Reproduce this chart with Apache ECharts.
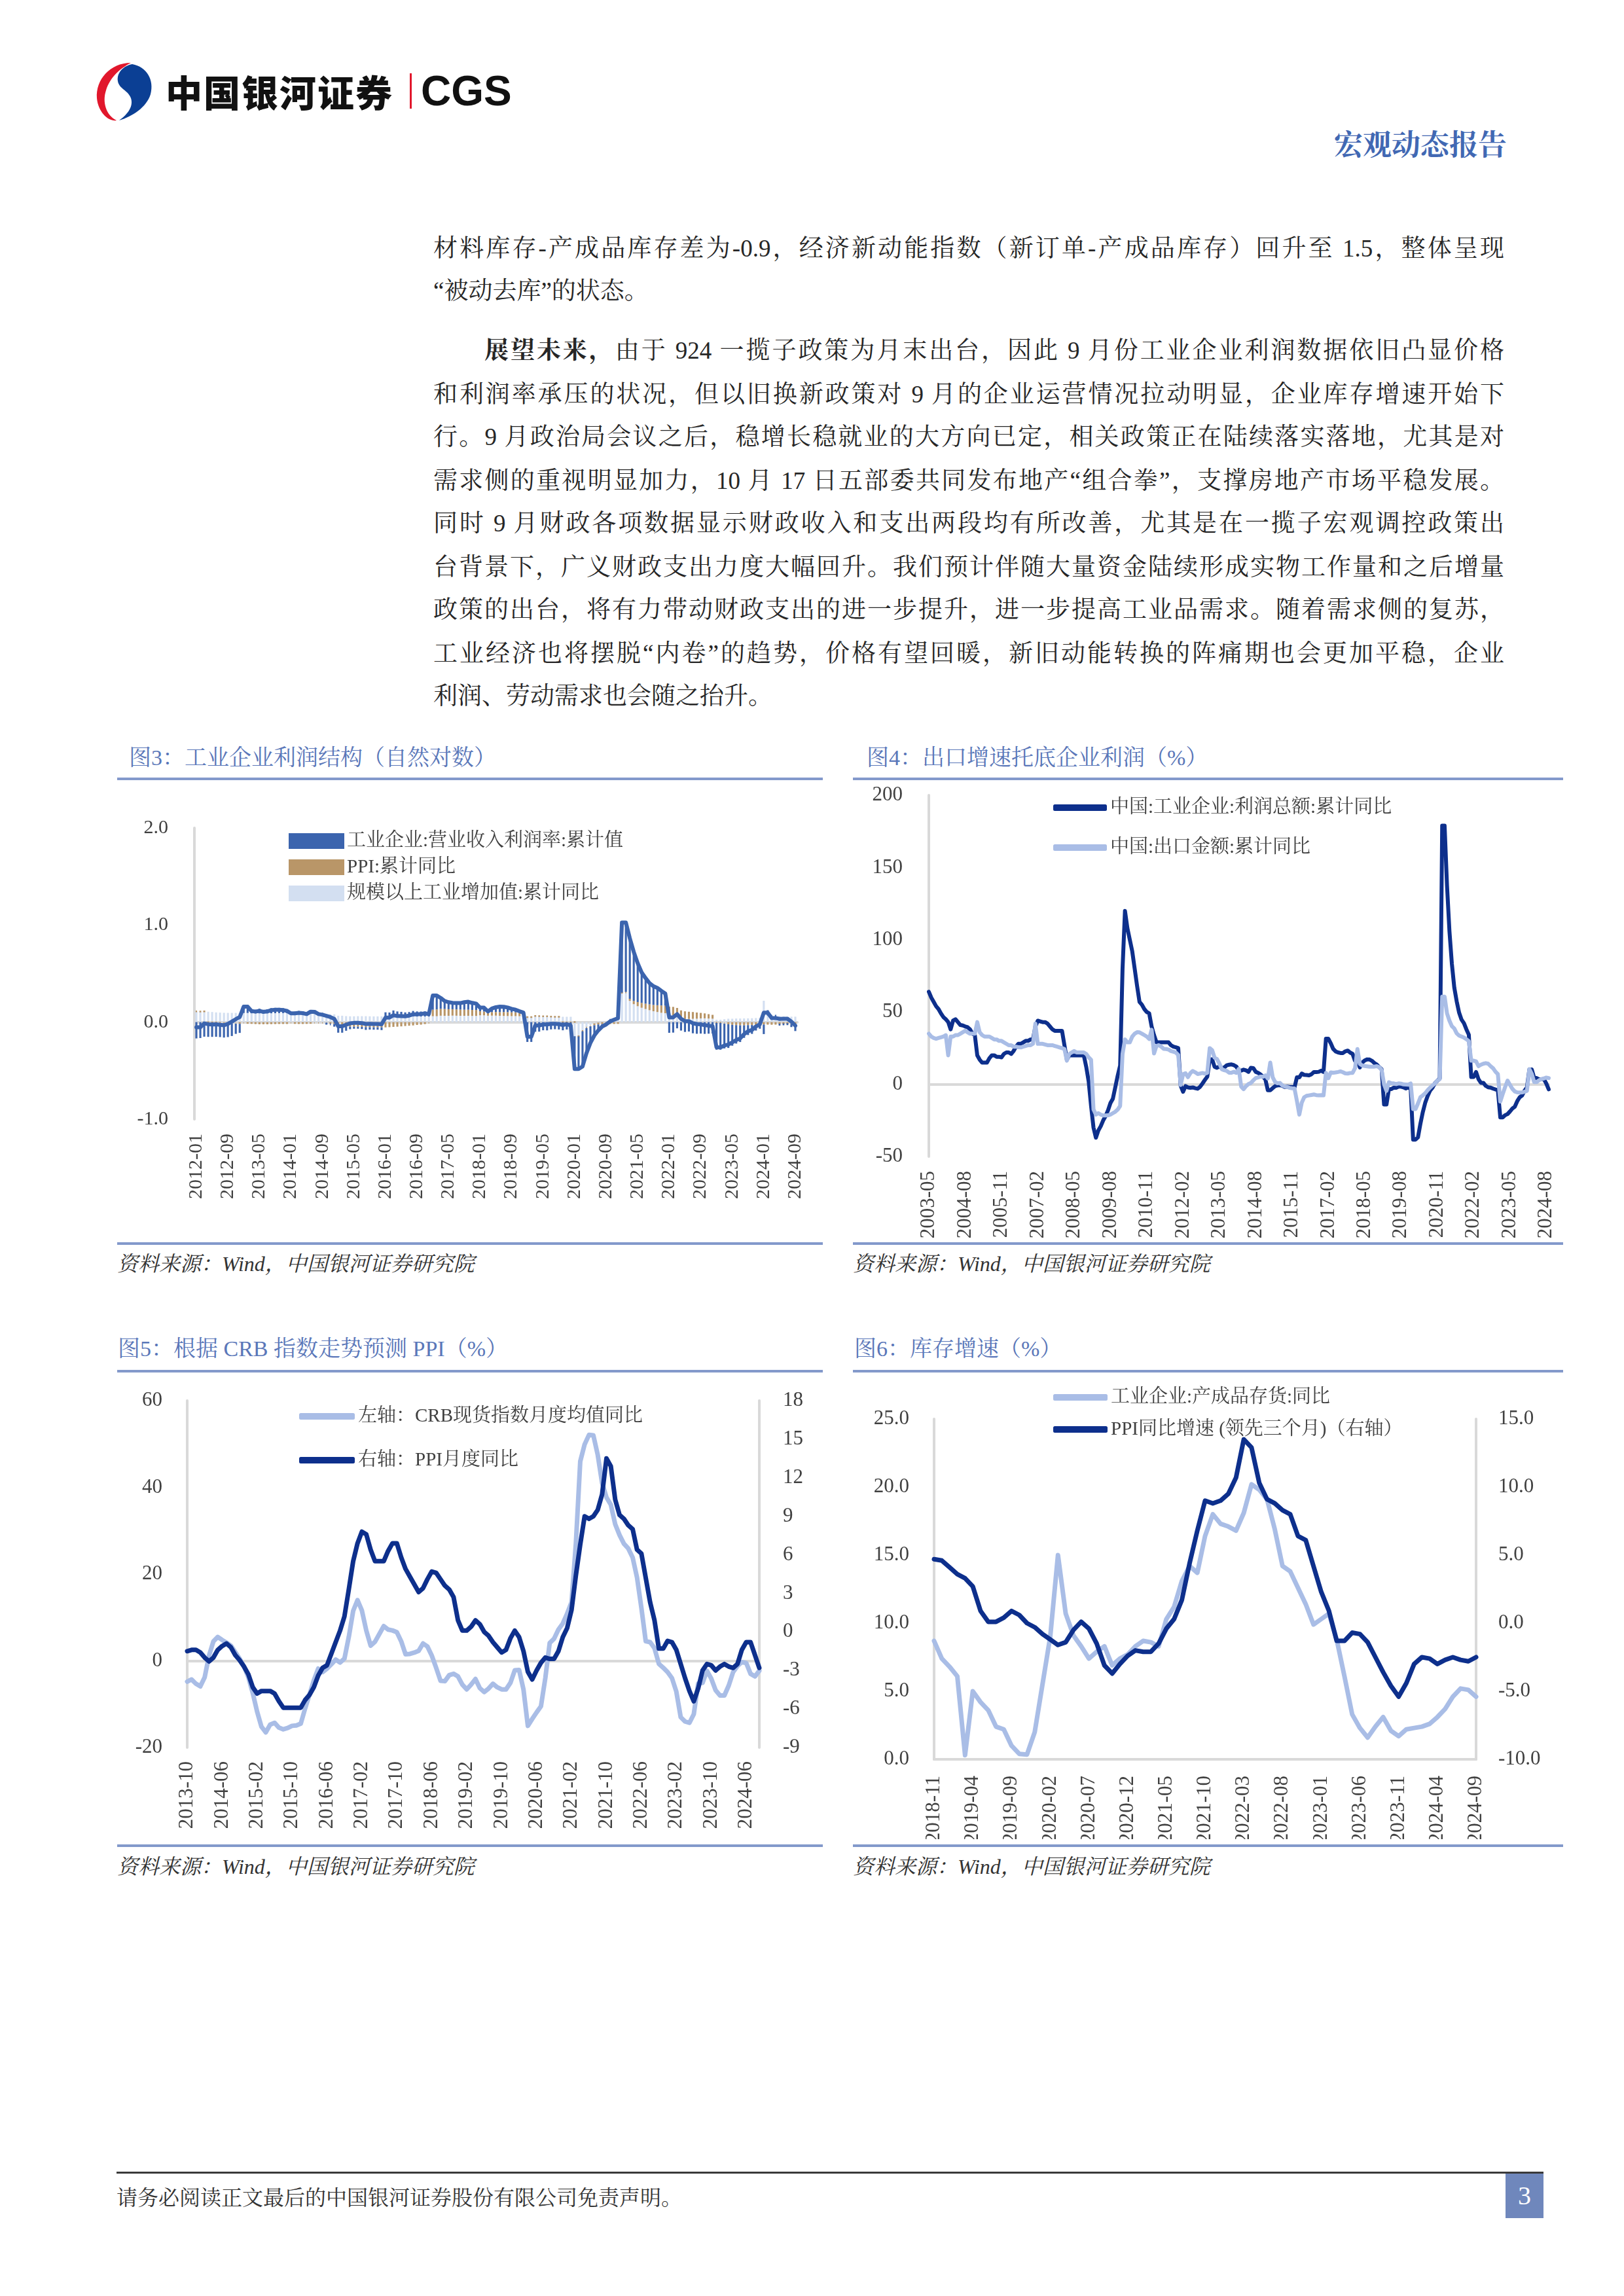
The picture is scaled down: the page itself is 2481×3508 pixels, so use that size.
<!DOCTYPE html>
<html><head><meta charset="utf-8">
<script src="https://cdn.jsdelivr.net/npm/echarts/dist/echarts.min.js"></script>
<style>
html,body{margin:0;padding:0;background:#fff;}
#page{position:relative;width:2481px;height:3508px;overflow:hidden;background:#fff;color:#262626;
 font-family:"Liberation Serif","Noto Serif CJK SC","Noto Sans CJK SC",serif;}
.abs{position:absolute;}
.tx{position:absolute;left:662px;width:1636px;height:50px;line-height:50px;font-size:37px;color:#262626;}
.just{text-align:justify;text-align-last:justify;}
.ttl{position:absolute;height:44px;line-height:44px;font-size:34px;color:#5a77b9;white-space:nowrap;}
.rule{position:absolute;height:4px;background:#8399cb;}
.src{position:absolute;height:40px;line-height:40px;font-size:32px;font-style:italic;color:#333;white-space:nowrap;}
.chart{position:absolute;}
</style></head>
<body><div id="page">

<svg class="abs" style="left:138px;top:92px" width="110" height="96" viewBox="0 0 110 96">
 <path d="M62 4 C30 4 8 30 10 58 C12 80 28 94 40 92 C24 84 18 64 24 46 C30 26 46 12 62 4 Z" fill="#e1172c"/>
 <path d="M64 6 C86 10 98 30 92 52 C86 72 64 86 44 92 C58 82 66 70 62 58 C58 46 44 44 42 32 C40 18 52 8 64 6 Z" fill="#0b3f94"/>
</svg>
<div class="abs" style="left:253px;top:106px;height:66px;line-height:66px;font-size:56px;font-weight:900;letter-spacing:2px;color:#111;font-family:'Noto Sans CJK SC',sans-serif;">中国银河证券</div>
<div class="abs" style="left:626px;top:112px;width:3px;height:54px;background:#e1172c;"></div>
<div class="abs" style="left:643px;top:104px;height:70px;line-height:70px;font-size:64px;font-weight:bold;color:#111;font-family:'Liberation Sans',Arial,sans-serif;">CGS</div>
<div class="abs" style="right:179px;top:198px;height:50px;line-height:50px;font-size:44px;font-weight:bold;color:#4168b3;">宏观动态报告</div>

<div class="tx just" style="top:355px">材料库存-产成品库存差为-0.9，经济新动能指数（新订单-产成品库存）回升至 1.5，整体呈现</div>
<div class="tx" style="top:420px">“被动去库”的状态。</div>
<div class="tx just" style="top:511px;left:740px;width:1558px"><b>展望未来，</b>由于 924 一揽子政策为月末出台，因此 9 月份工业企业利润数据依旧凸显价格</div>
<div class="tx just" style="top:578px">和利润率承压的状况，但以旧换新政策对 9 月的企业运营情况拉动明显，企业库存增速开始下</div>
<div class="tx just" style="top:643px">行。9 月政治局会议之后，稳增长稳就业的大方向已定，相关政策正在陆续落实落地，尤其是对</div>
<div class="tx just" style="top:710px">需求侧的重视明显加力，10 月 17 日五部委共同发布地产“组合拳”，支撑房地产市场平稳发展。</div>
<div class="tx just" style="top:775px">同时 9 月财政各项数据显示财政收入和支出两段均有所改善，尤其是在一揽子宏观调控政策出</div>
<div class="tx just" style="top:842px">台背景下，广义财政支出力度大幅回升。我们预计伴随大量资金陆续形成实物工作量和之后增量</div>
<div class="tx just" style="top:907px">政策的出台，将有力带动财政支出的进一步提升，进一步提高工业品需求。随着需求侧的复苏，</div>
<div class="tx just" style="top:974px">工业经济也将摆脱“内卷”的趋势，价格有望回暖，新旧动能转换的阵痛期也会更加平稳，企业</div>
<div class="tx" style="top:1039px">利润、劳动需求也会随之抬升。</div>

<div class="ttl" style="left:197px;top:1136px">图3：工业企业利润结构（自然对数）</div>
<div class="rule" style="left:179px;top:1188px;width:1078px"></div>
<div class="rule" style="left:179px;top:1898px;width:1078px"></div>
<div class="src" style="left:179px;top:1911px">资料来源：Wind，中国银河证券研究院</div>
<div id="c3" class="chart" style="left:179px;top:1200px;width:1080px;height:690px"></div>

<div class="ttl" style="left:1324px;top:1136px">图4：出口增速托底企业利润（%）</div>
<div class="rule" style="left:1303px;top:1188px;width:1085px"></div>
<div class="rule" style="left:1303px;top:1898px;width:1085px"></div>
<div class="src" style="left:1303px;top:1911px">资料来源：Wind，中国银河证券研究院</div>
<div id="c4" class="chart" style="left:1300px;top:1200px;width:1090px;height:695px"></div>

<div class="ttl" style="left:180px;top:2039px">图5：根据 CRB 指数走势预测 PPI（%）</div>
<div class="rule" style="left:179px;top:2093px;width:1078px"></div>
<div class="rule" style="left:179px;top:2818px;width:1078px"></div>
<div class="src" style="left:179px;top:2832px">资料来源：Wind，中国银河证券研究院</div>
<div id="c5" class="chart" style="left:179px;top:2110px;width:1080px;height:700px"></div>

<div class="ttl" style="left:1305px;top:2039px">图6：库存增速（%）</div>
<div class="rule" style="left:1303px;top:2093px;width:1085px"></div>
<div class="rule" style="left:1303px;top:2818px;width:1085px"></div>
<div class="src" style="left:1303px;top:2832px">资料来源：Wind，中国银河证券研究院</div>
<div id="c6" class="chart" style="left:1300px;top:2110px;width:1090px;height:700px"></div>

<div class="abs" style="left:178px;top:3318px;width:2180px;height:3px;background:#3a3a3a;"></div>
<div class="abs" style="left:178px;top:3336px;height:44px;line-height:44px;font-size:32px;color:#333;">请务必阅读正文最后的中国银河证券股份有限公司免责声明。</div>
<div class="abs" style="left:2300px;top:3321px;width:58px;height:68px;background:#6f87bc;color:#fff;font-size:40px;line-height:68px;text-align:center;">3</div>

</div>
<script>
const FONT = '"Liberation Serif","Noto Serif CJK SC","Noto Sans CJK SC",serif';
const GRAY = '#d9d9d9';
const LBL = '#404040';
const DARK = '#0d2f8c';
const LIGHT = '#a9bde6';

function monthCats(y, m, n) {
  const out = [];
  for (let k = 0; k < n; k++) {
    out.push(y + '-' + (m < 10 ? '0' : '') + m);
    m++; if (m > 12) { m = 1; y++; }
  }
  return out;
}

// ---------- Figure 3 data (2012-01 .. 2024-09, natural log) ----------
const c3Cats = monthCats(2012, 1, 153);
const c3Names = ['工业企业:营业收入利润率:累计值', 'PPI:累计同比', '规模以上工业增加值:累计同比'];
const c3Va = [
 0.108,0.108,0.110,0.107,0.104,0.100,0.098,0.096,0.095,0.095,0.095,0.095,
 0.094,0.094,0.091,0.090,0.090,0.089,0.090,0.091,0.092,0.093,0.093,0.093,
 0.083,0.083,0.083,0.083,0.083,0.084,0.084,0.082,0.082,0.081,0.080,0.080,
 0.066,0.066,0.062,0.060,0.060,0.061,0.061,0.061,0.060,0.059,0.059,0.059,
 0.053,0.053,0.056,0.056,0.057,0.058,0.058,0.058,0.058,0.058,0.058,0.058,
 0.061,0.061,0.066,0.065,0.065,0.067,0.066,0.065,0.065,0.065,0.064,0.064,
 0.070,0.070,0.066,0.067,0.067,0.065,0.064,0.063,0.062,0.062,0.061,0.060,
 0.052,0.052,0.063,0.060,0.058,0.058,0.056,0.055,0.055,0.055,0.055,0.055,
 -0.145,-0.145,-0.088,-0.050,-0.028,-0.013,-0.004,0.004,0.012,0.018,0.023,0.028,
 0.301,0.301,0.219,0.185,0.164,0.148,0.135,0.123,0.112,0.104,0.096,0.092,
 0.072,0.072,0.063,0.039,0.033,0.033,0.034,0.035,0.038,0.039,0.037,0.035,
 0.024,0.024,0.030,0.035,0.035,0.037,0.037,0.038,0.039,0.040,0.042,0.045,
 0.220,0.068,0.059,0.061,0.060,0.058,0.057,0.056,0.056];
const c3Ppi = [
 0.007,0.003,0.001,-0.002,-0.004,-0.006,-0.009,-0.011,-0.014,-0.015,-0.016,-0.017,
 -0.016,-0.017,-0.018,-0.020,-0.022,-0.022,-0.022,-0.021,-0.020,-0.019,-0.019,-0.019,
 -0.016,-0.018,-0.019,-0.019,-0.018,-0.017,-0.016,-0.015,-0.015,-0.016,-0.017,-0.019,
 -0.044,-0.047,-0.047,-0.047,-0.047,-0.047,-0.049,-0.051,-0.052,-0.053,-0.053,-0.053,
 -0.054,-0.052,-0.049,-0.047,-0.044,-0.040,-0.037,-0.034,-0.029,-0.026,-0.020,-0.014,
 0.067,0.070,0.071,0.070,0.068,0.066,0.065,0.064,0.063,0.063,0.062,0.061,
 0.042,0.039,0.037,0.036,0.037,0.038,0.040,0.040,0.039,0.039,0.037,0.034,
 0.001,0.001,0.002,0.003,0.003,0.003,0.002,0.001,0.000,-0.002,-0.003,-0.003,
 0.001,-0.002,-0.006,-0.011,-0.015,-0.019,-0.020,-0.020,-0.020,-0.020,-0.019,-0.018,
 0.003,0.010,0.021,0.033,0.043,0.050,0.055,0.060,0.065,0.070,0.076,0.078,
 0.087,0.085,0.083,0.082,0.078,0.074,0.070,0.064,0.057,0.051,0.045,0.040,
 -0.008,-0.008,-0.016,-0.022,-0.028,-0.031,-0.033,-0.033,-0.031,-0.030,-0.030,-0.030,
 -0.025,-0.026,-0.027,-0.026,-0.024,-0.021,-0.020,-0.019,-0.019];
const c3Margin = [
 -0.168,-0.164,-0.150,-0.150,-0.148,-0.145,-0.145,-0.148,-0.140,-0.128,-0.105,-0.094,
 0.081,0.082,0.041,0.038,0.048,0.038,0.042,0.053,0.055,0.054,0.050,0.041,
 0.023,0.025,0.032,0.028,0.018,0.041,0.038,0.016,0.009,0.000,-0.011,-0.028,
 -0.065,-0.062,-0.042,-0.026,-0.021,-0.021,-0.022,-0.029,-0.025,-0.025,-0.025,-0.029,
 0.048,0.046,0.064,0.054,0.049,0.042,0.046,0.057,0.052,0.051,0.052,0.038,
 0.146,0.143,0.112,0.083,0.072,0.066,0.065,0.067,0.077,0.082,0.072,0.066,
 0.037,0.040,0.007,0.037,0.049,0.056,0.054,0.047,0.036,0.027,0.014,0.004,
 -0.204,-0.204,-0.099,-0.098,-0.084,-0.085,-0.075,-0.073,-0.076,-0.082,-0.073,-0.086,
 -0.339,-0.336,-0.363,-0.259,-0.171,-0.105,-0.061,-0.029,-0.016,0.009,0.020,0.030,
 0.722,0.715,0.624,0.505,0.400,0.314,0.263,0.219,0.193,0.178,0.150,0.125,
 -0.110,-0.108,-0.064,-0.087,-0.101,-0.097,-0.115,-0.120,-0.118,-0.121,-0.119,-0.116,
 -0.276,-0.276,-0.255,-0.244,-0.215,-0.190,-0.172,-0.129,-0.102,-0.091,-0.057,-0.038,
 -0.098,0.055,0.010,0.007,-0.003,-0.003,-0.002,-0.032,-0.073];
const c3Total = [
 -0.053,-0.053,-0.013,-0.022,-0.024,-0.022,-0.027,-0.032,-0.018,0.005,0.030,0.052,
 0.159,0.159,0.114,0.108,0.116,0.105,0.110,0.123,0.127,0.128,0.124,0.115,
 0.090,0.090,0.096,0.092,0.083,0.108,0.106,0.083,0.076,0.065,0.052,0.033,
 -0.043,-0.043,-0.027,-0.013,-0.008,-0.007,-0.010,-0.019,-0.017,-0.019,-0.019,-0.023,
 0.047,0.047,0.071,0.063,0.062,0.060,0.067,0.081,0.081,0.083,0.090,0.082,
 0.274,0.274,0.249,0.218,0.205,0.199,0.196,0.196,0.205,0.210,0.198,0.191,
 0.149,0.149,0.110,0.140,0.153,0.159,0.158,0.150,0.137,0.128,0.112,0.098,
 -0.151,-0.151,-0.034,-0.035,-0.023,-0.024,-0.017,-0.017,-0.021,-0.029,-0.021,-0.034,
 -0.483,-0.483,-0.457,-0.320,-0.214,-0.137,-0.085,-0.045,-0.024,0.007,0.024,0.040,
 1.026,1.026,0.864,0.723,0.607,0.512,0.453,0.402,0.370,0.352,0.322,0.295,
 0.049,0.049,0.082,0.034,0.010,0.010,-0.011,-0.021,-0.023,-0.031,-0.037,-0.041,
 -0.260,-0.260,-0.241,-0.231,-0.208,-0.184,-0.168,-0.124,-0.094,-0.081,-0.045,-0.023,
 0.097,0.097,0.042,0.042,0.033,0.034,0.035,0.005,-0.036];

// ---------- Figure 4 data (2003-05 .. 2024-09, %) ----------
const c4Cats = monthCats(2003, 5, 257);
const c4Names = ['中国:工业企业:利润总额:累计同比', '中国:出口金额:累计同比'];
const c4Profit = [
 64,60,57,54,52,49,46.5,45,
 43,38,44,45,43,41,40.7,40,39.5,38,35,34,
 20,17,15,15,15,18,20,20,19,19,18.6,21,
 22,22,21,23,26,28,28,29,30,30,31,31,
 40,44,43.5,43,43,42,40,38,37,37,37,37,
 27,17,20,20,20,20,20,20,20,12,2,-15,
 -30,-37,-32,-29,-25,-22,-18,-13,-10,-2,6,13,
 80,120,108,100,92,80,68,57,55,52,50,49,
 40,34,29,29,29,29,29,29,27,26,25.6,25,
 -1,-5.2,-1.3,-2.2,-2.4,-2.2,-2.7,-3.1,-1.8,0.5,3,5.3,
 17.2,17.2,12.1,11.4,12.3,11.1,11.6,13.1,13.5,13.7,13.2,12.2,
 9.4,9.4,10.1,9.6,8.6,11.4,11.2,8.6,7.9,6.7,5.3,3.3,
 -4.2,-4.2,-2.7,-1.3,-0.8,-0.7,-1,-1.9,-1.7,-1.9,-1.9,-2.3,
 4.8,4.8,7.4,6.5,6.4,6.2,6.9,8.4,8.4,8.6,9.4,8.5,
 31.5,31.5,28.3,24.4,22.7,22,21.6,21.6,22.8,23.3,21.9,21,
 16.1,16.1,11.6,15,16.5,17.2,17.1,16.2,14.7,13.6,11.8,10.3,
 -14,-14,-3.3,-3.4,-2.3,-2.4,-1.7,-1.7,-2.1,-2.9,-2.1,-3.3,
 -38.3,-38.3,-36.7,-27.4,-19.3,-12.8,-8.1,-4.4,-2.4,0.7,2.4,4.1,
 178.9,178.9,137.3,106,83.4,66.9,57.3,49.5,44.7,42.2,38,34.3,
 5,5,8.5,3.5,1,1,-1.1,-2.1,-2.3,-3,-3.6,-4,
 -22.9,-22.9,-21.4,-20.6,-18.8,-16.8,-15.5,-11.7,-9,-7.8,-4.4,-2.3,
 10.2,10.2,4.3,4.3,3.4,3.5,3.6,0.5,-3.5];
const c4Export = [
 35,33,32,31.5,32,32.5,33,34,
 20,33,33,34,34,35,36,37,36,35,35,35,
 43,36,34,33,33,33,32,31,31,30,30,29,
 28,27,27,26,26,25.6,25.5,26,26.5,27,27,28,
 42,28,28,28,27.5,27,27,27,26.5,26,25.5,25,
 24.4,16.3,21,22,23,22,22,22,22,21,18.6,17,
 -17.4,-21,-20,-21,-21.6,-21.6,-21.5,-21,-20,-19,-17.5,-15,
 21,31,29,29,33,35,36,35.9,35,34,33,31.3,
 37.7,21.3,26.5,27,26,24.5,24.4,24,23,22.5,22,20.3,
 -0.5,6.9,7.6,4.9,7.7,9.2,8.3,7.1,7.4,7.8,7.3,7.9,
 25,23.6,18.4,17.4,14.3,10.4,9.7,9.3,8,8,8.6,7.9,
 10.6,-1.6,-3.4,-1.3,0.2,0.9,2.7,4.3,4.8,5.3,5.2,6.1,
 4,15,4.9,1.6,0.7,0.9,-0.8,-1.6,-1.9,-2.5,-2.8,-2.9,
 -11.5,-21,-12.8,-9,-8,-7.7,-7.4,-7.1,-7.5,-7.7,-7.5,-7.7,
 7.9,4.2,8.2,8,8.2,8.5,8.9,8.3,7.5,7.4,7.8,7.9,
 11.1,24.4,14.1,13,12.6,12.4,12.2,12.2,12.2,12.5,11.8,9.9,
 0,-4.6,1.4,0.7,0.6,0.1,0.6,0.4,-0.1,-0.2,-0.3,0.5,
 -17.2,-17.2,-13.3,-9,-7.7,-6.2,-4.1,-2.3,-0.8,0.5,2.5,3.6,
 60.6,60.6,49,44,40.2,38.6,35.2,33.7,33,32.3,31.1,29.9,
 16.3,16.3,15.8,12.5,13.5,14.2,14.6,14.2,12.5,11.1,8.7,7,
 -12,-6.8,-1.9,2.5,-0.4,-3.2,-5,-5.6,-5.7,-5.6,-5.2,-4.6,
 10.5,7.1,1.5,1.5,2.7,3.6,4,4.6,4.3];

// ---------- Figure 5 data (2013-10 .. 2024-09, %) ----------
const c5Cats = monthCats(2013, 10, 132);
const c5Names = ['左轴：CRB现货指数月度均值同比', '右轴：PPI月度同比'];
const c5Crb = [
 -4.8,-4.3,-5.3,
 -5.9,-3.8,1.2,4.5,5.5,4.8,4.2,3.5,2.0,0.5,-1.3,-3.8,
 -7.4,-11.7,-15.2,-16.5,-14.7,-14.3,-15.4,-15.8,-15.5,-15.0,-14.9,-14.5,
 -11.0,-7.8,-4.5,-1.8,-2.6,-1.8,-0.8,0.3,-0.4,0.5,5.5,11.5,
 14.0,11.6,7.0,3.5,4.4,6.2,8.0,7.2,7.0,6.6,4.5,1.5,
 1.6,1.9,2.3,4.0,3.3,1.2,-1.6,-4.6,-4.7,-3.3,-3.0,-3.6,
 -5.5,-6.6,-5.5,-4.2,-6.3,-7.2,-6.4,-5.3,-6.1,-6.6,-6.6,-5.1,
 -2.2,-2.1,-6.6,-15.0,-13.4,-11.9,-10.5,-4.0,4.1,5.1,7.2,8.6,
 10.9,13.5,27.1,46.0,49.9,52.1,52.0,47.5,41.0,37.7,36.0,31.5,
 29.0,27.0,25.9,23.8,19.2,12.2,4.5,4.3,2.9,-0.7,-1.6,-2.6,
 -4.0,-7.1,-13.0,-14.0,-14.3,-12.3,-5.2,-5.1,-2.3,-4.1,-6.8,-8.0,
 -8.0,-5.7,-2.6,-1.2,-0.3,-0.5,-3.0,-3.6,-2.3];
const c5Ppi = [
 -1.5,-1.4,-1.4,
 -1.6,-2.0,-2.3,-2.0,-1.4,-1.1,-0.9,-1.2,-1.8,-2.2,-2.7,-3.3,
 -4.3,-4.8,-4.6,-4.6,-4.6,-4.8,-5.4,-5.9,-5.9,-5.9,-5.9,-5.9,
 -5.3,-4.9,-4.3,-3.4,-2.8,-2.6,-1.7,-0.8,0.1,1.2,3.3,5.5,
 6.9,7.8,7.6,6.4,5.5,5.5,5.5,6.3,6.9,6.9,5.8,4.9,
 4.3,3.7,3.1,3.4,4.1,4.7,4.6,4.1,3.6,3.3,2.7,0.9,
 0.1,0.1,0.4,0.9,0.6,0.0,-0.3,-0.8,-1.2,-1.6,-1.4,-0.5,
 0.1,-0.4,-1.5,-3.1,-3.7,-3.0,-2.4,-2.0,-2.1,-2.1,-1.5,-0.4,
 0.3,1.7,4.4,6.8,9.0,8.8,9.0,9.5,10.7,13.5,12.9,10.3,
 9.1,8.8,8.3,8.0,6.4,6.1,4.2,2.3,0.9,-1.3,-1.3,-0.7,
 -0.8,-1.4,-2.5,-3.6,-4.6,-5.4,-4.4,-3.0,-2.5,-2.6,-3.0,-2.7,
 -2.5,-2.7,-2.8,-2.5,-1.4,-0.8,-0.8,-1.8,-2.8];

// ---------- Figure 6 data (2018-11 .. 2024-09, %) ----------
const c6Cats = monthCats(2018, 11, 71);
const c6Names = ['工业企业:产成品存货:同比', 'PPI同比增速 (领先三个月)（右轴）'];
const c6Inv = [
 8.7,7.4,
 6.8,6.1,0.3,5.0,4.2,3.6,2.4,2.2,1.0,0.4,0.35,2.0,
 5.5,9.0,15.0,10.7,9.1,8.3,7.4,7.9,8.3,6.9,7.4,7.7,
 8.3,8.7,8.6,8.3,10.3,11.2,13.1,14.2,13.7,16.4,18.0,17.3,
 17.1,16.8,18.1,20.2,19.8,19.1,16.9,14.2,13.8,12.6,11.4,9.9,
 10.3,10.7,8.8,6.1,3.3,2.3,1.6,2.4,3.1,2.1,1.7,2.2,
 2.3,2.4,2.6,3.1,3.7,4.6,5.2,5.1,4.6];
const c6Ppi = [
 4.7,4.6,4.1,3.6,3.3,2.7,0.9,
 0.1,0.1,0.4,0.9,0.6,0.0,-0.3,-0.8,-1.2,-1.6,-1.4,-0.5,
 0.1,-0.4,-1.5,-3.1,-3.7,-3.0,-2.4,-2.0,-2.1,-2.1,-1.5,-0.4,
 0.3,1.7,4.4,6.8,9.0,8.8,9.0,9.5,10.7,13.5,12.9,10.3,
 9.1,8.8,8.3,8.0,6.4,6.1,4.2,2.3,0.9,-1.3,-1.3,-0.7,
 -0.8,-1.4,-2.5,-3.6,-4.6,-5.4,-4.4,-3.0,-2.5,-2.6,-3.0,-2.7,
 -2.5,-2.7,-2.8,-2.5];

// ---------- helpers ----------
function yAxis(o) {
  return Object.assign({
    type: 'value', splitLine: { show: false }, axisTick: { show: false },
    axisLine: { show: true, lineStyle: { color: GRAY, width: 4 } },
    axisLabel: { fontSize: 31, color: LBL, fontFamily: FONT, margin: 38 }
  }, o);
}
function xZero(cats, gap) {
  return { type: 'category', data: cats, boundaryGap: gap,
    axisLine: { show: true, onZero: true, lineStyle: { color: GRAY, width: 4 } },
    axisTick: { show: false }, axisLabel: { show: false } };
}
function xLabels(cats, gap, interval, size, margin, extra) {
  return { type: 'category', data: cats, boundaryGap: gap, position: 'bottom',
    axisLine: { show: false, onZero: false }, axisTick: { show: false },
    axisLabel: Object.assign({ interval: interval, rotate: 90, fontSize: size, color: LBL, fontFamily: FONT, margin: margin }, extra || {}) };
}
function lineSeries(name, data, color, width, yIdx) {
  return { name: name, type: 'line', data: data, yAxisIndex: yIdx || 0, xAxisIndex: 0,
    symbol: 'none', smooth: false, lineStyle: { color: color, width: width, join: 'round', cap: 'round' },
    itemStyle: { color: color }, emphasis: { disabled: true } };
}
function legend(names, left, top, gap, w, h, icon) {
  return { data: names, orient: 'vertical', left: left, top: top, itemGap: gap,
    itemWidth: w, itemHeight: h, icon: icon,
    textStyle: { fontSize: 29, color: LBL, fontFamily: FONT, lineHeight: 32 } };
}

// ---------- Figure 3 ----------
const ch3 = echarts.init(document.getElementById('c3'), null, { renderer: 'canvas' });
ch3.setOption({
  animation: false,
  textStyle: { fontFamily: FONT },
  grid: { left: 118, top: 65, width: 921, height: 445, outerBoundsMode: 'none' },
  legend: legend(c3Names, 257, 64, 8, 83, 22, 'rect'),
  xAxis: [xZero(c3Cats, true), xLabels(c3Cats, true, 7, 30, 22)],
  yAxis: yAxis({ min: -1, max: 2, interval: 1,
    axisLabel: { fontSize: 30, color: LBL, fontFamily: FONT, margin: 40, formatter: v => v.toFixed(1) } }),
  series: [
    { name: c3Names[2], type: 'bar', stack: 's', data: c3Va, barWidth: '52%',
      itemStyle: { color: '#d3dff1', borderColor: '#d3dff1', borderWidth: 2 }, emphasis: { disabled: true } },
    { name: c3Names[1], type: 'bar', stack: 's', data: c3Ppi, barWidth: '52%',
      itemStyle: { color: '#b99668', borderColor: '#b99668', borderWidth: 2.5 }, emphasis: { disabled: true } },
    { name: c3Names[0], type: 'bar', stack: 's', data: c3Margin, barWidth: '52%',
      itemStyle: { color: '#3b64ae', borderColor: '#3b64ae', borderWidth: 3 }, emphasis: { disabled: true } },
    Object.assign(lineSeries('合计', c3Total, '#3b64ae', 6), { z: 5 })
  ]
});

// ---------- Figure 4 ----------
const ch4 = echarts.init(document.getElementById('c4'), null, { renderer: 'canvas' });
ch4.setOption({
  animation: false,
  textStyle: { fontFamily: FONT },
  grid: { left: 119, top: 15, width: 947, height: 552, outerBoundsMode: 'none' },
  legend: legend(c4Names, 304, 13, 29, 82, 10, 'roundRect'),
  xAxis: [xZero(c4Cats, false), xLabels(c4Cats, false, 14, 31, 22)],
  yAxis: yAxis({ min: -50, max: 200, interval: 50,
    axisLabel: { fontSize: 31, color: LBL, fontFamily: FONT, margin: 40 } }),
  series: [
    lineSeries(c4Names[0], c4Profit, DARK, 6),
    lineSeries(c4Names[1], c4Export, LIGHT, 6)
  ]
});

// ---------- Figure 5 ----------
const ch5 = echarts.init(document.getElementById('c5'), null, { renderer: 'canvas' });
ch5.setOption({
  animation: false,
  textStyle: { fontFamily: FONT },
  grid: { left: 107, top: 30, width: 874, height: 530, outerBoundsMode: 'none' },
  legend: legend(c5Names, 273, 33, 35, 85, 10, 'roundRect'),
  xAxis: [Object.assign(xZero(c5Cats, false), { axisLine: { show: true, onZero: true, onZeroAxisIndex: 0, lineStyle: { color: GRAY, width: 4 } } }),
          xLabels(c5Cats, false, 7, 31, 21)],
  yAxis: [
    yAxis({ min: -20, max: 60, interval: 20, position: 'left' }),
    yAxis({ min: -9, max: 18, interval: 3, position: 'right',
      axisLabel: { fontSize: 31, color: LBL, fontFamily: FONT, margin: 36 } })
  ],
  series: [
    lineSeries(c5Names[0], c5Crb, LIGHT, 7, 0),
    lineSeries(c5Names[1], c5Ppi, DARK, 7, 1)
  ]
});

// ---------- Figure 6 ----------
const ch6 = echarts.init(document.getElementById('c6'), null, { renderer: 'canvas' });
ch6.setOption({
  animation: false,
  textStyle: { fontFamily: FONT },
  grid: { left: 127, top: 58, width: 828, height: 520, outerBoundsMode: 'none' },
  legend: legend(c6Names, 304, 4, 17, 83, 10, 'roundRect'),
  xAxis: { type: 'category', data: c6Cats, boundaryGap: false,
    axisLine: { show: true, onZero: false, lineStyle: { color: GRAY, width: 4 } }, axisTick: { show: false },
    axisLabel: { interval: 4, rotate: 90, fontSize: 31, color: LBL, fontFamily: FONT, margin: 25 } },
  yAxis: [
    yAxis({ min: 0, max: 25, interval: 5, position: 'left',
      axisLabel: { fontSize: 31, color: LBL, fontFamily: FONT, margin: 38, formatter: v => v.toFixed(1) } }),
    yAxis({ min: -10, max: 15, interval: 5, position: 'right',
      axisLabel: { fontSize: 31, color: LBL, fontFamily: FONT, margin: 34, formatter: v => v.toFixed(1) } })
  ],
  series: [
    lineSeries(c6Names[0], c6Inv, LIGHT, 7, 0),
    lineSeries(c6Names[1], c6Ppi, DARK, 7, 1)
  ]
});
</script>
</body></html>
